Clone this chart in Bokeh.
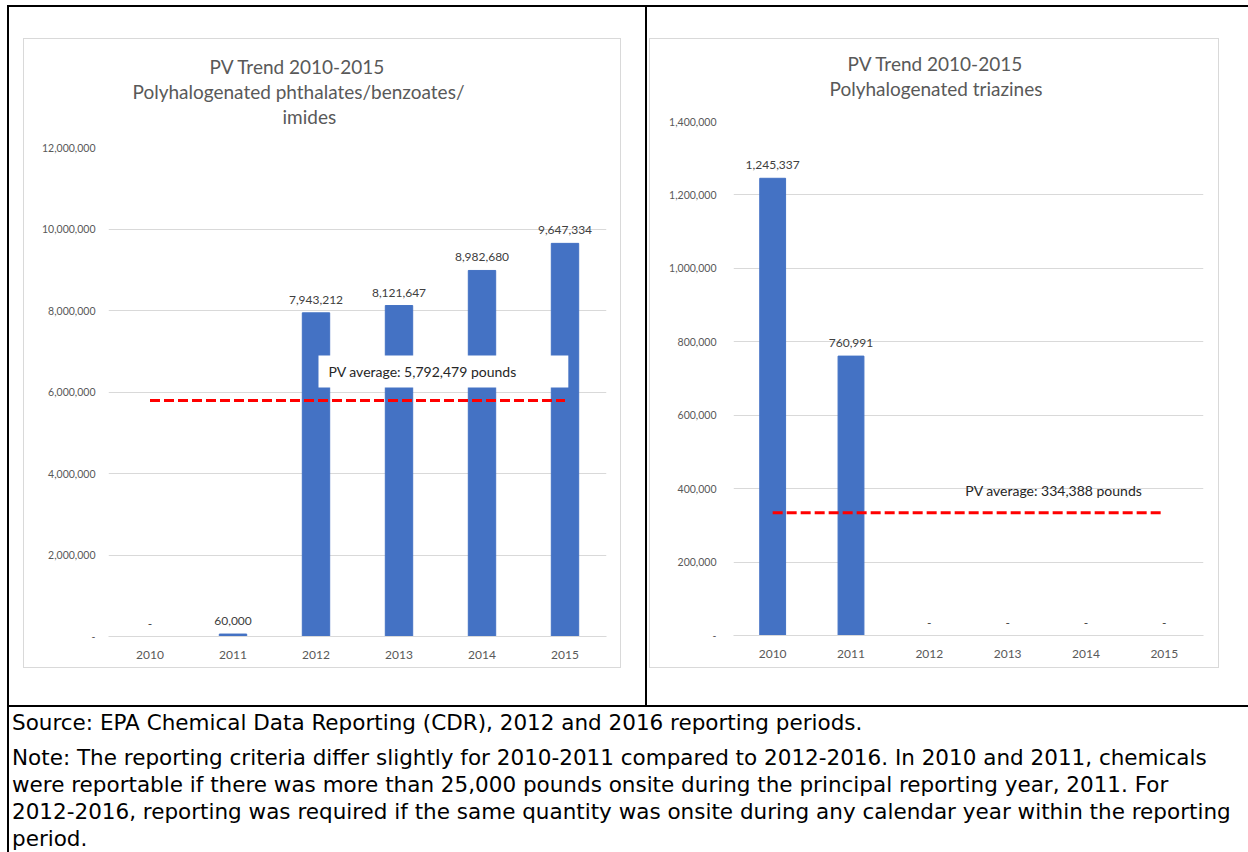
from bokeh.plotting import figure
from bokeh.models import (FixedTicker, NumeralTickFormatter, Label, BoxAnnotation,
                          Div, Spacer, Range1d, FactorRange, ColumnDataSource, Title)
from bokeh.layouts import row, column
from bokeh.core.properties import value
from bokeh.embed import file_html
from bokeh.resources import INLINE

# ---------------- data ----------------
years = ["2010", "2011", "2012", "2013", "2014", "2015"]
pv_phthalates = [0, 60000, 7943212, 8121647, 8982680, 9647334]
pv_triazines = [1245337, 760991, 0, 0, 0, 0]
ticks_left = [0, 2000000, 4000000, 6000000, 8000000, 10000000, 12000000]
ticks_right = [0, 200000, 400000, 600000, 800000, 1000000, 1200000, 1400000]
title_left = ["PV Trend 2010-2015", "Polyhalogenated phthalates/benzoates/", "imides"]
title_right = ["PV Trend 2010-2015", "Polyhalogenated triazines"]
source_note = "Source: EPA Chemical Data Reporting (CDR), 2012 and 2016 reporting periods."
note_lines = [
    "Note: The reporting criteria differ slightly for 2010-2011 compared to 2012-2016. In 2010 and 2011, chemicals",
    "were reportable if there was more than 25,000 pounds onsite during the principal reporting year, 2011. For",
    "2012-2016, reporting was required if the same quantity was onsite during any calendar year within the reporting",
    "period.",
]

FONT = "Lato"
GREY = "#595959"
GRID = "#d9d9d9"
BAR = "#4472C4"


def make_chart(values, ticks, titles, w, h, borders, ystandoff, title_offsets,
               title_gap, avg_label_pos, avg_font, avg_box=None):
    left, right, top, bottom = borders
    p = figure(x_range=FactorRange(*years, range_padding=0),
               y_range=Range1d(ticks[0], ticks[-1]),
               width=w, height=h, output_backend="svg", toolbar_location=None,
               min_border_left=left, min_border_right=right,
               min_border_top=top, min_border_bottom=bottom,
               styles={"border": "1px solid #d9d9d9"})
    p.outline_line_color = None
    p.background_fill_color = "white"
    p.border_fill_color = "white"
    p.xgrid.grid_line_color = None
    p.ygrid.grid_line_color = GRID
    p.ygrid.ticker = FixedTicker(ticks=ticks)

    p.yaxis.ticker = FixedTicker(ticks=ticks)
    p.yaxis.formatter = NumeralTickFormatter(format="0,0")
    p.yaxis.major_label_overrides = {0: "-"}
    p.yaxis.axis_line_color = None
    p.yaxis.major_tick_line_color = None
    p.yaxis.minor_tick_line_color = None
    p.yaxis.major_label_standoff = ystandoff
    p.yaxis.major_label_text_font = FONT
    p.yaxis.major_label_text_font_size = "10.5px"
    p.yaxis.major_label_text_color = GREY

    p.xaxis.axis_line_color = GRID
    p.xaxis.major_tick_line_color = None
    p.xaxis.minor_tick_line_color = None
    p.xaxis.major_label_standoff = 8
    p.xaxis.major_label_text_font = FONT
    p.xaxis.major_label_text_font_size = "12px"
    p.xaxis.major_label_text_color = GREY

    labels = [f"{v:,}" if v else "-" for v in values]
    src = ColumnDataSource(dict(year=years, pv=values, label=labels))
    p.vbar(x="year", top="pv", width=0.33, source=src, color=BAR)
    p.text(x="year", y="pv", text="label", source=src, text_align="center",
           text_baseline="bottom", y_offset=-9, text_font=value(FONT),
           text_font_size="12px", text_color="#404040")

    avg = sum(values) / len(values)
    p.segment(x0=[years[0]], y0=[avg], x1=[years[-1]], y1=[avg],
              line_color="#FF0000", line_width=3, line_dash="10 4")

    if avg_box is not None:
        bl, br, bt, bb = avg_box
        p.add_layout(BoxAnnotation(left=bl, right=br, top=bt, bottom=bb,
                                   fill_color="white", fill_alpha=1.0,
                                   line_alpha=0.0))
    ax, ay = avg_label_pos
    p.add_layout(Label(x=ax, y=ay, text=f"PV average: {avg:,.0f} pounds",
                       text_baseline="middle", text_align="left",
                       text_font=FONT, text_font_size=avg_font,
                       text_color="#262626"))

    # chart title: a white (invisible) thin spacer next to the frame, then lines outward
    p.title.text = ""
    p.title.standoff = 0
    p.add_layout(Title(text=".", text_color="#ffffff", text_font_size="2px",
                       standoff=title_gap), "above")
    for t, off in reversed(list(zip(titles, title_offsets))):
        p.add_layout(Title(text=t, align="left", offset=off,
                           vertical_align="middle", standoff=0,
                           text_font=FONT, text_font_size="19px",
                           text_font_style="normal", text_color=GREY), "above")
    return p


fig1 = make_chart(pv_phthalates, ticks_left, title_left, 598, 630,
                  (84, 16, 108, 33), 7, [101, 24, 174], 16,
                  (2.65, 6503000), "14px",
                  avg_box=(2.53, 5.54, 6896000, 6110000))
fig2 = make_chart(pv_triazines, ticks_right, title_right, 570, 630,
                  (83, 17, 82, 34), 11, [114, 96], 18,
                  (2.96, 395000), "14px")


def black(w, h):
    return Div(text="", width=w, height=h, margin=0,
               styles={"background-color": "#000000"})


def sp(w, h):
    return Spacer(width=w, height=h, margin=0)


html = (
    "<div style=\"font-family:'DejaVu Sans',sans-serif;"
    "font-size:21.5px;line-height:27px;color:#000;padding:2px 0 0 3px;white-space:nowrap;\">"
    f"<div style='margin-bottom:8px'>{source_note}</div>"
    f"<div>{'<br>'.join(note_lines)}</div></div>"
)
text_div = Div(text=html, width=1239, height=145, margin=0)

layout = column(
    sp(1248, 5),
    row(sp(7, 2), black(1241, 2), spacing=0),
    row(sp(7, 698), black(2, 698), sp(14, 698),
        column(sp(600, 31), fig1, sp(600, 35), spacing=0),
        sp(22, 698), black(2, 698), sp(2, 698),
        column(sp(572, 31), fig2, sp(572, 35), spacing=0),
        spacing=0),
    row(sp(7, 2), black(1241, 2), spacing=0),
    row(sp(7, 145), black(2, 145), text_div, spacing=0),
    spacing=0,
)

open("out.html", "w").write(file_html(layout, INLINE))
